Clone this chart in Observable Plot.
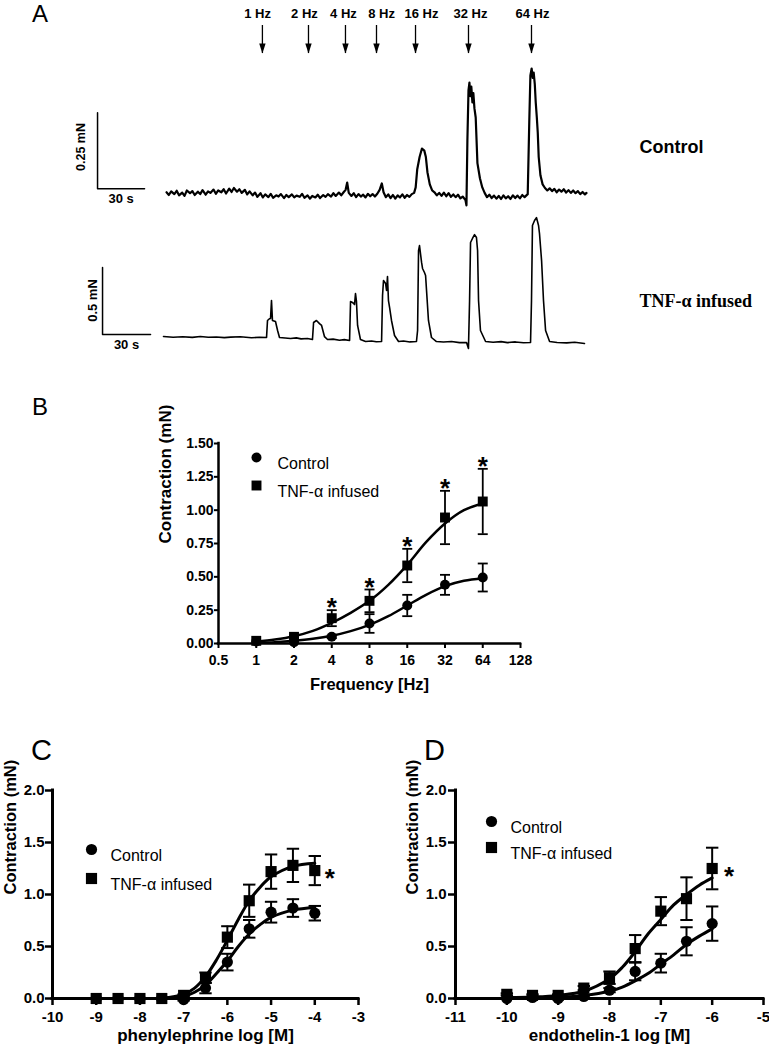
<!DOCTYPE html>
<html><head><meta charset="utf-8">
<script src="https://cdn.jsdelivr.net/npm/d3@7"></script>
<script src="https://cdn.jsdelivr.net/npm/@observablehq/plot@0.6"></script>
<style>
html,body{margin:0;padding:0;background:#fff;}
#fig{position:relative;width:769px;height:1049px;overflow:hidden;background:#fff;}
</style></head>
<body><div id="fig"></div>
<script>
// ---------- DATA ----------
// Panel A: stimulation frequencies and times (s) of the arrows
const hzLabels = ["1 Hz","2 Hz","4 Hz","8 Hz","16 Hz","32 Hz","64 Hz"];
const stimTimes = [61.2, 90.6, 114.2, 134.0, 158.9, 192.7, 232.9];
const hzLabelTimes = [58.1, 88.0, 112.9, 137.2, 162.7, 194.0, 233.5];
// Panel A: control trace [time s, force mN]
const controlTrace = [[0,0.004],[1.5,-0.005],[3,0.007],[5,-0.002],[6.5,0.009],[8,-0.006],[10,0.003],[11.5,-0.008],[13,0.01],[15,0.001],[16.5,0.008],[18,-0.005],[20,0.006],[21.5,-0.002],[23,0.011],[25,-0.004],[26.5,0.007],[28,0.002],[30,0.013],[31.5,-0.001],[33,0.01],[35,0.004],[36.5,0.014],[38,0],[40,0.016],[41.5,0.005],[43,0.018],[45,0.006],[46.5,0.014],[48,0.002],[50,0.012],[51.5,-0.003],[53,0.007],[55,-0.006],[56.5,0.003],[58,-0.011],[60,0.001],[61.5,-0.013],[63,-0.003],[65,-0.012],[66.5,-0.001],[68,-0.014],[70,-0.006],[71.5,-0.01],[73,-0.002],[75,-0.015],[76.5,-0.005],[78,-0.012],[80,-0.003],[81.5,-0.013],[83,-0.007],[85,-0.011],[86.5,-0.001],[88,-0.014],[90,-0.006],[91.5,-0.017],[93,-0.008],[95,-0.013],[96.5,-0.004],[98,-0.015],[100,-0.005],[101.5,-0.011],[103,-0.002],[105,-0.01],[106.5,0.001],[108,-0.008],[110,0.003],[111.5,-0.006],[113,0.004],[114.3,0.012],[115.3,0.036],[116.3,0.002],[118,-0.008],[119.5,0.001],[121,-0.012],[122.5,-0.002],[124,-0.01],[125.5,-0.004],[127,-0.013],[128.5,-0.001],[130,-0.009],[131.5,-0.002],[133,-0.01],[134.5,-0.001],[136,0.012],[137.4,0.033],[138.5,0.004],[140,-0.012],[141.5,-0.003],[143,-0.015],[144.5,-0.005],[146,-0.017],[147.5,-0.006],[149,-0.013],[150.5,-0.003],[152,-0.014],[153.5,-0.005],[155,-0.011],[156.5,-0.002],[158,0.002],[159,0.02],[160,0.08],[161.5,0.12],[163,0.148],[164.5,0.141],[165.5,0.12],[166.5,0.07],[168,0.03],[169.5,0.01],[171,0.004],[172.5,-0.006],[174,0.002],[175.5,-0.008],[177,0.003],[178.5,-0.009],[180,0.001],[181.5,-0.011],[183,-0.003],[184.5,-0.012],[186,-0.004],[187.5,-0.016],[189,-0.01],[190.8,-0.022],[191.4,-0.039],[192,0.174],[192.7,0.339],[193.3,0.365],[193.9,0.32],[194.5,0.352],[195.2,0.3],[195.8,0.33],[196.5,0.28],[197.3,0.25],[198.4,0.1],[200,0.05],[201.5,0.02],[203,0.002],[204.5,-0.012],[206,-0.004],[207.5,-0.015],[209,-0.007],[210.5,-0.017],[212,-0.008],[213.5,-0.018],[215,-0.006],[216.5,-0.016],[218,-0.009],[219.5,-0.018],[221,-0.006],[222.5,-0.015],[224,-0.007],[225.5,-0.016],[227,-0.005],[228.5,-0.012],[230.5,-0.002],[231.5,0.24],[232.2,0.388],[233,0.411],[233.7,0.38],[234.3,0.398],[235,0.36],[235.6,0.3],[236.3,0.25],[236.9,0.2],[237.5,0.12],[238.6,0.06],[240,0.03],[241.5,0.018],[243,0.01],[244.5,0.017],[246,0.008],[247.5,0.015],[249,0.004],[250.5,0.013],[252,0.006],[253.5,0.014],[255,0.003],[256.5,0.011],[258,0.002],[259.5,0.01],[261,0.001],[262.5,0.008],[264,-0.002],[265.5,0.005],[267,-0.003],[268,0.002]];
// Panel A: TNF-alpha infused trace [time s, force mN]
const tnfTrace = [[0,0.007],[6,0.002],[12,0.006],[18,0.001],[23,0.008],[28,0.002],[33,0.004],[38,-0.001],[42,0.003],[48,0.006],[55,-0.002],[60,0.002],[64.4,0],[65,0.127],[66.2,0.14],[66.9,0.142],[67.5,0.276],[68.1,0.127],[70,0.119],[71.3,0.052],[72.5,0],[76,-0.004],[79.4,-0.007],[83,-0.003],[86,-0.01],[90,-0.008],[93.1,-0.015],[93.8,0.112],[95.6,0.127],[97.5,0.104],[98.8,0.09],[100.6,0.007],[102.5,-0.015],[106,-0.012],[110,-0.02],[113,-0.016],[116.3,-0.022],[116.9,0.269],[118.1,0.262],[119.4,0.246],[120,0.328],[120.6,0.269],[121.3,0.09],[123.1,-0.015],[126.3,-0.03],[130,-0.026],[133,-0.032],[136.3,-0.03],[136.9,0.313],[137.5,0.425],[138.8,0.403],[139.4,0.351],[140,0.455],[140.6,0.276],[141.3,0.224],[142.5,0.127],[144.4,0.015],[146.9,-0.03],[150,-0.026],[154,-0.033],[158.1,-0.03],[158.8,0.052],[159.4,0.649],[160,0.686],[161.3,0.56],[161.9,0.515],[163.1,0.485],[163.8,0.463],[164.4,0.351],[165.6,0.127],[167.5,0],[170.6,-0.03],[175,-0.034],[180,-0.03],[185,-0.038],[189.4,-0.037],[190.6,-0.082],[191.3,0.276],[191.9,0.709],[193.1,0.739],[194.4,0.768],[195.6,0.746],[196.3,0.649],[196.9,0.276],[198.1,0.052],[201.3,-0.03],[206,-0.036],[211,-0.031],[215,-0.038],[220,-0.033],[225,-0.039],[229.4,-0.037],[230,0.276],[230.6,0.836],[231.9,0.873],[233.1,0.895],[234.4,0.836],[235,0.776],[236.3,0.574],[237.5,0.276],[238.8,0.052],[241.3,-0.03],[246,-0.037],[252,-0.04],[257,-0.036],[263.1,-0.045]];

// Panel B: frequency response
const freqs = [1, 2, 4, 8, 16, 32, 64];
const bControl = [0.015, 0.01, 0.05, 0.15, 0.285, 0.44, 0.495];
const bControlSem = [0, 0, 0.01, 0.07, 0.08, 0.075, 0.105];
const bTnf = [0.02, 0.05, 0.19, 0.32, 0.585, 0.945, 1.065];
const bTnfSem = [0, 0.01, 0.06, 0.085, 0.125, 0.2, 0.245];
const bSignif = [false, false, true, true, true, true, true];
const bCurveX = [1, 1.41, 2, 2.83, 4, 5.66, 8, 11.3, 16, 22.6, 32, 45.3, 64];
const bCurveControl = [0.005, 0.01, 0.02, 0.035, 0.058, 0.093, 0.14, 0.205, 0.285, 0.365, 0.43, 0.47, 0.49];
const bCurveTnf = [0.015, 0.03, 0.055, 0.095, 0.155, 0.23, 0.32, 0.44, 0.59, 0.76, 0.9, 1.0, 1.05];
const bXTicks = [0.5, 1, 2, 4, 8, 16, 32, 64, 128];
const bYTicks = [0, 0.25, 0.5, 0.75, 1.0, 1.25, 1.5];

// Panel C: phenylephrine
const cDose = [-9, -8.5, -8, -7.5, -7, -6.5, -6, -5.5, -5, -4.5, -4];
const cControl = [0, 0, 0, 0, -0.01, 0.1, 0.35, 0.67, 0.83, 0.87, 0.82];
const cControlSem = [0, 0, 0, 0, 0.01, 0.05, 0.08, 0.085, 0.1, 0.085, 0.07];
const cTnf = [0, 0, 0, 0, 0.03, 0.2, 0.59, 0.94, 1.22, 1.28, 1.23];
const cTnfSem = [0, 0, 0, 0, 0.01, 0.05, 0.105, 0.155, 0.165, 0.16, 0.14];
const cCurveX = [-9, -8.5, -8, -7.5, -7, -6.75, -6.5, -6.25, -6, -5.75, -5.5, -5.25, -5, -4.5, -4];
const cCurveControl = [0, 0, 0, 0.003, 0.02, 0.06, 0.13, 0.24, 0.36, 0.5, 0.62, 0.71, 0.78, 0.85, 0.875];
const cCurveTnf = [0, 0, 0, 0.003, 0.04, 0.1, 0.21, 0.37, 0.56, 0.76, 0.94, 1.07, 1.17, 1.27, 1.3];
const cXTicks = [-10, -9, -8, -7, -6, -5, -4, -3];

// Panel D: endothelin-1
const dDose = [-10, -9.5, -9, -8.5, -8, -7.5, -7, -6.5, -6];
const dControl = [0, 0.01, 0, 0.02, 0.08, 0.26, 0.34, 0.55, 0.72];
const dControlSem = [0, 0, 0, 0.01, 0.02, 0.085, 0.09, 0.135, 0.165];
const dTnf = [0.04, 0.03, 0.03, 0.1, 0.2, 0.48, 0.84, 0.96, 1.25];
const dTnfSem = [0.01, 0.01, 0.01, 0.02, 0.06, 0.13, 0.135, 0.205, 0.2];
const dCurveX = [-10, -9.5, -9, -8.5, -8, -7.75, -7.5, -7.25, -7, -6.75, -6.5, -6.25, -6];
const dCurveControl = [0.003, 0.006, 0.012, 0.03, 0.07, 0.11, 0.17, 0.24, 0.33, 0.42, 0.52, 0.6, 0.67];
const dCurveTnf = [0.01, 0.015, 0.03, 0.07, 0.19, 0.3, 0.45, 0.62, 0.76, 0.9, 1.0, 1.09, 1.16];
const dXTicks = [-11, -10, -9, -8, -7, -6, -5];
const cdYTicks = [0, 0.5, 1.0, 1.5, 2.0];

const legendLabels = ["Control", "TNF-\u03b1 infused"];

// ---------- HELPERS ----------
const FONT = "'Liberation Sans', Arial, sans-serif";
const fig = document.getElementById("fig");
function place(el, left, top) {
  el.style.position = "absolute";
  el.style.left = left + "px";
  el.style.top = top + "px";
  fig.appendChild(el);
}
const baseStyle = {fontFamily: FONT, fontSize: "14px", fontWeight: "bold", color: "#000", background: "transparent", overflow: "visible"};
const cap = hw => ({draw(ctx) { ctx.moveTo(-hw, 0); ctx.lineTo(hw, 0); }});
const arrowHead = {draw(ctx) { ctx.moveTo(-3.2, -10); ctx.lineTo(3.2, -10); ctx.lineTo(0, 0); ctx.closePath(); }};
const rows = (xs, ys, sems) => xs.map((x, i) => ({x, y: ys[i], e: sems ? sems[i] : 0, i}));

function errorMarks(data, capHw, sw) {
  const d = data.filter(r => r.e > 0);
  return [
    Plot.ruleX(d, {x: "x", y1: r => r.y - r.e, y2: r => r.y + r.e, stroke: "#000", strokeWidth: sw}),
    Plot.dot(d, {x: "x", y: r => r.y + r.e, symbol: cap(capHw), fill: "none", stroke: "#000", strokeWidth: sw}),
    Plot.dot(d, {x: "x", y: r => r.y - r.e, symbol: cap(capHw), fill: "none", stroke: "#000", strokeWidth: sw})
  ];
}

// ---------- PANEL A ----------
const aControl = Plot.plot({
  width: 769, height: 215, style: baseStyle,
  x: {domain: [0, 268], range: [166, 586], axis: null},
  y: {domain: [0, 0.25], range: [193, 117], axis: null},
  marks: [
    Plot.line(controlTrace, {x: d => d[0], y: d => d[1], stroke: "#000", strokeWidth: 2.2, strokeLinejoin: "round"}),
    Plot.line([[-44, 0.266], [-44, 0.016], [-14, 0.016]], {x: d => d[0], y: d => d[1], stroke: "#000", strokeWidth: 1.5}),
    Plot.text(["0.25 mN"], {x: -54.5, y: 0.153, rotate: -90, fontSize: 12.5}),
    Plot.text(["30 s"], {x: -29, y: 0.016, dy: 10, fontSize: 13}),
    Plot.ruleX(stimTimes, {x: d => d, y1: 0.4605, y2: 0.5526, stroke: "#000", strokeWidth: 1.3}),
    Plot.dot(stimTimes, {x: d => d, y: 0.4605, symbol: arrowHead, fill: "#000", stroke: "none"}),
    Plot.text(hzLabels, {x: (d, i) => hzLabelTimes[i], y: 0.592, fontSize: 13}),
    Plot.text(["Control"], {x: 301.8, y: 0.151, textAnchor: "start", fontSize: 18})
  ]
});
place(aControl, 0, 0);

const aTnf = Plot.plot({
  width: 769, height: 145, style: baseStyle,
  x: {domain: [0, 30], range: [163, 211], axis: null},
  y: {domain: [0, 0.5], range: [122, 55], axis: null},
  marks: [
    Plot.line(tnfTrace, {x: d => d[0], y: d => d[1], stroke: "#000", strokeWidth: 1.6, strokeLinejoin: "round"}),
    Plot.line([[-38.1, 0.522], [-38.1, 0.022], [-8.1, 0.022]], {x: d => d[0], y: d => d[1], stroke: "#000", strokeWidth: 1.5}),
    Plot.text(["0.5 mN"], {x: -44.4, y: 0.276, rotate: -90, fontSize: 13}),
    Plot.text(["30 s"], {x: -23.1, y: 0.022, dy: 10, fontSize: 13}),
    Plot.text([legendLabels[1]], {x: 297.5, y: 0.269, textAnchor: "start", fontSize: 18, fontFamily: "'Liberation Serif', 'Times New Roman', serif"})
  ]
});
place(aTnf, 0, 215);

// ---------- PANEL B ----------
const bCtl = rows(freqs, bControl, bControlSem);
const bTn = rows(freqs, bTnf, bTnfSem);
const bPlot = Plot.plot({
  width: 769, height: 300, style: baseStyle,
  marginLeft: 218, marginRight: 249, marginTop: 43, marginBottom: 57,
  x: {type: "log", base: 2, domain: [0.5, 128]},
  y: {domain: [0, 1.5]},
  marks: [
    Plot.axisY({ticks: bYTicks, tickFormat: d => d.toFixed(2), tickSize: 4, tickPadding: 1, strokeWidth: 2, fontSize: 14, label: null}),
    Plot.axisX({ticks: bXTicks, tickFormat: d => String(d), tickSize: 5, tickPadding: 7, strokeWidth: 2, fontSize: 14, label: null}),
    Plot.ruleX([0.5], {y1: 0, y2: 1.5, stroke: "#000", strokeWidth: 2.5, strokeLinecap: "square"}),
    Plot.ruleY([0], {x1: 0.5, x2: 128, stroke: "#000", strokeWidth: 2.5, strokeLinecap: "square"}),
    Plot.line(bCurveX.map((x, i) => ({x, y: bCurveControl[i]})), {x: "x", y: "y", curve: "catmull-rom", stroke: "#000", strokeWidth: 2.5}),
    Plot.line(bCurveX.map((x, i) => ({x, y: bCurveTnf[i]})), {x: "x", y: "y", curve: "catmull-rom", stroke: "#000", strokeWidth: 2.5}),
    ...errorMarks(bCtl, 5, 1.8),
    ...errorMarks(bTn, 5, 1.8),
    Plot.dot(bCtl, {x: "x", y: "y", r: 5, fill: "#000", stroke: "none"}),
    Plot.dot(bTn, {x: "x", y: "y", r: 5.6, symbol: "square", fill: "#000", stroke: "none"}),
    Plot.text(bTn.filter(r => bSignif[r.i]), {x: "x", y: r => r.y + r.e, text: () => "*", dy: -2, fontSize: 26}),
    Plot.text(["Contraction (mN)"], {frameAnchor: "left", dx: -53, rotate: -90, fontSize: 17}),
    Plot.text(["Frequency [Hz]"], {frameAnchor: "bottom", dy: 46, fontSize: 16.5}),
    Plot.dot([0], {frameAnchor: "top-left", dx: 38, dy: 14, r: 5, fill: "#000", stroke: "none"}),
    Plot.dot([0], {frameAnchor: "top-left", dx: 38, dy: 42, r: 5.6, symbol: "square", fill: "#000", stroke: "none"}),
    Plot.text([legendLabels[0]], {frameAnchor: "top-left", dx: 59, dy: 14, textAnchor: "start", fontSize: 16, fontWeight: "normal"}),
    Plot.text([legendLabels[1]], {frameAnchor: "top-left", dx: 59, dy: 42, textAnchor: "start", fontSize: 16, fontWeight: "normal"})
  ]
});
place(bPlot, 0, 400);

// ---------- PANELS C & D ----------
function dosePlot(o) {
  const ctl = rows(o.dose, o.control, o.controlSem);
  const tn = rows(o.dose, o.tnf, o.tnfSem);
  const last = tn[tn.length - 1];
  return Plot.plot({
    width: o.width, height: 349, style: baseStyle,
    marginLeft: o.ml, marginRight: o.mr, marginTop: 90, marginBottom: 51,
    x: {domain: o.xDomain},
    y: {domain: [0, 2]},
    marks: [
      Plot.axisY({ticks: cdYTicks, tickFormat: d => d.toFixed(1), tickSize: 7, tickPadding: o.ypad, strokeWidth: 2.5, fontSize: 15, label: null}),
      Plot.axisX({ticks: o.xTicks, tickFormat: d => String(d), tickSize: 7, tickPadding: 6, strokeWidth: 2.5, fontSize: 15, label: null}),
      Plot.ruleX([o.xDomain[0]], {y1: 0, y2: 2, stroke: "#000", strokeWidth: 3, strokeLinecap: "square"}),
      Plot.ruleY([0], {x1: o.xDomain[0], x2: o.xDomain[1], stroke: "#000", strokeWidth: 3, strokeLinecap: "square"}),
      Plot.line(o.curveX.map((x, i) => ({x, y: o.curveControl[i]})), {x: "x", y: "y", curve: "catmull-rom", stroke: "#000", strokeWidth: 3}),
      Plot.line(o.curveX.map((x, i) => ({x, y: o.curveTnf[i]})), {x: "x", y: "y", curve: "catmull-rom", stroke: "#000", strokeWidth: 3}),
      ...errorMarks(ctl, 6.2, 2),
      ...errorMarks(tn, 6.2, 2),
      Plot.dot(ctl, {x: "x", y: "y", r: 5.6, fill: "#000", stroke: "none"}),
      Plot.dot(tn, {x: "x", y: "y", r: 6.3, symbol: "square", fill: "#000", stroke: "none"}),
      Plot.text([last], {x: "x", y: "y", text: () => "*", dx: o.starDx, dy: 8, fontSize: 26}),
      Plot.text(["Contraction (mN)"], {frameAnchor: "left", dx: o.ytDx, rotate: -90, fontSize: 16.5}),
      Plot.text([o.xTitle], {frameAnchor: "bottom", dy: 42.5, fontSize: 17}),
      Plot.dot([0], {frameAnchor: "top-left", dx: o.lgDx, dy: o.lgDy, r: 5.6, fill: "#000", stroke: "none"}),
      Plot.dot([0], {frameAnchor: "top-left", dx: o.lgDx, dy: o.lgDy + o.lgGap, r: 6.3, symbol: "square", fill: "#000", stroke: "none"}),
      Plot.text([legendLabels[0]], {frameAnchor: "top-left", dx: o.lgDx + 19, dy: o.lgDy, textAnchor: "start", fontSize: 16, fontWeight: "normal"}),
      Plot.text([legendLabels[1]], {frameAnchor: "top-left", dx: o.lgDx + 19, dy: o.lgDy + o.lgGap, textAnchor: "start", fontSize: 16, fontWeight: "normal"})
    ]
  });
}

const cPlot = dosePlot({
  width: 385, ml: 52, mr: 27, ypad: 1, xDomain: [-10, -3], xTicks: cXTicks,
  dose: cDose, control: cControl, controlSem: cControlSem, tnf: cTnf, tnfSem: cTnfSem,
  curveX: cCurveX, curveControl: cCurveControl, curveTnf: cCurveTnf,
  starDx: 15, ytDx: -42, xTitle: "phenylephrine log [M]", lgDx: 39, lgDy: 59, lgGap: 29
});
place(cPlot, 0, 700);

const dPlot = dosePlot({
  width: 384, ml: 70, mr: 6, ypad: 2, xDomain: [-11, -5], xTicks: dXTicks,
  dose: dDose, control: dControl, controlSem: dControlSem, tnf: dTnf, tnfSem: dTnfSem,
  curveX: dCurveX, curveControl: dCurveControl, curveTnf: dCurveTnf,
  starDx: 17, ytDx: -43, xTitle: "endothelin-1 log [M]", lgDx: 36, lgDy: 31, lgGap: 26
});
place(dPlot, 385, 700);

// ---------- PANEL LETTERS ----------
const ns = "http://www.w3.org/2000/svg";
const over = document.createElementNS(ns, "svg");
over.setAttribute("width", 769); over.setAttribute("height", 1049);
over.style.pointerEvents = "none";
[["A", 32, 22, 24], ["B", 32, 415, 24], ["C", 31, 760, 29], ["D", 424, 760, 29]].forEach(([t, x, y, s]) => {
  const el = document.createElementNS(ns, "text");
  el.setAttribute("x", x); el.setAttribute("y", y);
  el.setAttribute("font-family", FONT); el.setAttribute("font-size", s);
  el.textContent = t;
  over.appendChild(el);
});
place(over, 0, 0);
</script>
</body></html>
